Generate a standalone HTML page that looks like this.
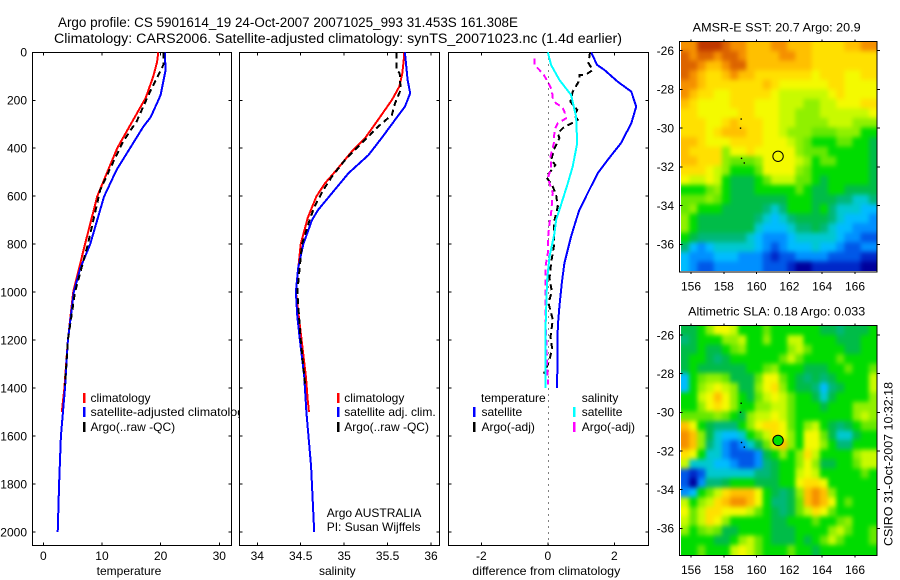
<!DOCTYPE html>
<html lang="en">
<head>
<meta charset="utf-8">
<title>Argo profile CS 5901614_19</title>
<style>
html,body{margin:0;padding:0;background:#fff;}
svg{display:block;}
text{font-family:"Liberation Sans",sans-serif;font-size:12px;fill:#000;}
</style>
</head>
<body>
<svg id="fig" xmlns="http://www.w3.org/2000/svg" width="900" height="580" viewBox="0 0 900 580">
<defs>
<clipPath id="clip-t"><rect x="0" y="380" width="239" height="60"/></clipPath>
<clipPath id="clip-sst"><rect x="681" y="42" width="196" height="229"/></clipPath>
<clipPath id="clip-sla"><rect x="681" y="326" width="196" height="229"/></clipPath>
<filter id="map-soften" x="-10%" y="-10%" width="120%" height="120%" color-interpolation-filters="sRGB">
<feGaussianBlur stdDeviation="2 2.3"/>
</filter>
</defs>
<rect x="0" y="0" width="900" height="580" fill="#fff"/>
<text x="58" y="27" style="font-size:13.5px" textLength="460" lengthAdjust="spacingAndGlyphs">Argo profile: CS 5901614_19 24-Oct-2007 20071025_993 31.453S 161.308E</text>
<text x="54" y="43" style="font-size:13.5px" textLength="568" lengthAdjust="spacingAndGlyphs">Climatology: CARS2006. Satellite-adjusted climatology: synTS_20071023.nc (1.4d earlier)</text>
<g id="plots"></g>

<g>
<rect x="83" y="393" width="2.5" height="10" fill="#f00"/>
<text x="90.5" y="402">climatology</text>
<rect x="83" y="407" width="2.5" height="10" fill="#00f"/>
<text x="90.5" y="416" clip-path="url(#clip-t)" textLength="160" lengthAdjust="spacingAndGlyphs">satellite-adjusted climatology</text>
<rect x="83" y="422" width="2.5" height="10" fill="#000"/>
<text x="90.5" y="431">Argo(..raw -QC)</text>
</g>
<g>
<rect x="337" y="393" width="2.5" height="10" fill="#f00"/>
<text x="344.3" y="402">climatology</text>
<rect x="337" y="407" width="2.5" height="10" fill="#00f"/>
<text x="344.3" y="416">satellite adj. clim.</text>
<rect x="337" y="422" width="2.5" height="10" fill="#000"/>
<text x="344.3" y="431">Argo(..raw -QC)</text>
<text x="326.7" y="517">Argo AUSTRALIA</text>
<text x="326.7" y="531">PI: Susan Wijffels</text>
</g>
<g>
<text x="481" y="402">temperature</text>
<rect x="473" y="407" width="2.5" height="10" fill="#00f"/>
<text x="481.5" y="416">satellite</text>
<rect x="473" y="422" width="2.5" height="10" fill="#000"/>
<text x="481.5" y="431">Argo(-adj)</text>
<text x="581.7" y="402">salinity</text>
<rect x="573" y="407" width="2.5" height="10" fill="#0ff"/>
<text x="581.7" y="416">satellite</text>
<rect x="573" y="422" width="2.5" height="10" fill="#f0f"/>
<text x="581.7" y="431">Argo(-adj)</text>
</g>

<text x="129" y="575" text-anchor="middle">temperature</text>
<text x="337.3" y="575" text-anchor="middle">salinity</text>
<text x="546.3" y="575" text-anchor="middle" textLength="148" lengthAdjust="spacingAndGlyphs">difference from climatology</text>
<text x="776.7" y="31.5" text-anchor="middle" textLength="168" lengthAdjust="spacingAndGlyphs">AMSR-E SST: 20.7 Argo: 20.9</text>
<text x="776.7" y="315.5" text-anchor="middle" textLength="177" lengthAdjust="spacingAndGlyphs">Altimetric SLA: 0.18 Argo: 0.033</text>
<text x="0" y="0" transform="translate(892.5,464) rotate(-90)" text-anchor="middle" textLength="164" lengthAdjust="spacingAndGlyphs">CSIRO 31-Oct-2007 10:32:18</text>
</svg>

<script>
/* ---------- axis tick labels ---------- */
var depthTicks = [0,200,400,600,800,1000,1200,1400,1600,1800,2000];
var tempTicks = [0,10,20,30];
var salTicks = [34,34.5,35,35.5,36];
var diffTicks = [-2,0,2];
var lonTicks = [156,158,160,162,164,166];
var latTicks = [-26,-28,-30,-32,-34,-36];

/* ---------- temperature panel ---------- */
var climTempDepth = [0,40,100,190,300,400,500,600,800,1000,1200,1400,1500];
var climTempValue = [19.6,19.4,18.75,17.45,14.9,12.6,10.9,9.2,7.1,5.1,4.2,3.6,3.15];
var satTempDepth = [0,50,80,178,200,270,310,379,490,602,800,900,1000,1200,1400,1600,1800,2000];
var satTempValue = [20.75,20.8,20.8,20.0,19.6,18.3,17.05,15.3,12.5,10.35,8,6.3,5.2,4.2,3.7,3.0,2.7,2.45];
var argoTempDepth = [0,50,81,149,212,289,320,372,484,574,800,1000,1200,1390];
var argoTempValue = [20.5,20.5,19.9,18.5,17.3,15.9,15,13.6,11.4,9.7,7.6,5.4,4.2,3.7];

/* ---------- salinity panel ---------- */
var climSalDepth = [0,18,88,143,199,282,358,414,483,546,601,691,800,1000,1200,1352,1449,1500];
var climSalValue = [35.69,35.69,35.67,35.635,35.55,35.39,35.24,35.087,34.93,34.78,34.68,34.58,34.5,34.445,34.51,34.56,34.58,34.595];
var satSalDepth = [0,115,171,227,282,358,428,504,587,657,699,800,900,1000,1100,1200,1350,1500,1727,2000];
var satSalValue = [35.7,35.73,35.76,35.7,35.585,35.43,35.28,35.05,34.86,34.7,34.63,34.53,34.47,34.445,34.46,34.49,34.54,34.565,34.62,34.655];
var argoSalDepth = [0,70,88,157,213,261,310,351,393,449,518,574,643,691,800,1000,1200,1385];
var argoSalValue = [35.6,35.6,35.64,35.65,35.585,35.55,35.39,35.28,35.16,35.01,34.86,34.76,34.66,34.61,34.515,34.46,34.5,34.55];

/* ---------- difference panel ---------- */
var diffSatTempDepth = [0,53,74,122,164,227,296,379,449,504,587,657,699,768,879,962,1060,1143,1400];
var diffSatTempValue = [1.3,1.485,1.705,2.1,2.51,2.66,2.51,2.2,1.8,1.5,1.2,0.95,0.85,0.7,0.5,0.42,0.35,0.3,0.28];
var diffSatSalDepth = [0,53,115,178,268,379,476,546,657,699,754,852,949,1157,1400];
var diffSatSalValue = [0,0.1,0.35,0.7,0.85,0.885,0.75,0.6,0.35,0.25,0.2,0.05,-0.02,-0.07,-0.07];
var diffArgoTempDepth = [0,45,74,92,95,122,164,206,240,261,282,316,338,358,400,449,470,497,518,560,595,643,713,810,879,942,997,1046,1115,1186,1234,1283,1340];
var diffArgoTempValue = [1.27,1.225,1.35,1.155,0.955,0.93,0.75,0.68,0.885,0.8,0.9,0.45,0.3,0.35,0.2,0.1,0.23,0.08,-0.05,0.15,0.25,0.3,0.18,0.18,0.1,0.05,0.12,0.02,0.15,0.08,0.13,0.05,-0.12];
var diffArgoSalDepth = [25,53,74,95,122,157,192,213,227,247,275,296,324,379,435,483,525,587,671,713,782,837,893,949,1004,1060,1115,1296,1352,1385];
var diffArgoSalValue = [-0.4,-0.4,-0.25,-0.12,0,0.12,0.15,0.25,0.42,0.5,0.55,0.3,0.2,0.18,0.08,0.1,0,0.15,0.1,0.05,0,0,-0.07,-0.07,-0.07,-0.07,-0.07,-0.02,0,0];

/* ---------- map data: colour-scale levels, 24 rows x 24 columns ---------- */
var sstRow00 = [15,15,17,17,17,16,15,15,14,14,14,15,15,14,14,14,13,13,13,13,14,14,15,15];
var sstRow01 = [16,15,16,16,15,16,16,15,14,14,14,14,15,15,14,14,13,13,13,13,13,13,13,13];
var sstRow02 = [16,16,15,14,14,15,16,16,14,14,14,14,14,14,14,14,13,13,13,13,13,13,13,13];
var sstRow03 = [16,15,14,13,13,14,15,14,14,13,13,13,13,13,13,13,12,13,13,13,12,12,13,13];
var sstRow04 = [15,15,14,13,13,13,13,13,13,13,14,13,12,12,12,12,12,12,13,13,12,12,12,12];
var sstRow05 = [15,14,13,13,12,12,13,13,13,13,13,12,11,11,11,11,11,11,12,13,12,12,12,12];
var sstRow06 = [14,13,12,12,12,12,13,13,13,12,12,12,11,11,11,10,10,11,11,12,12,12,13,13];
var sstRow07 = [13,13,12,12,12,12,12,13,13,12,12,12,11,11,10,10,10,11,11,11,11,11,11,12];
var sstRow08 = [13,13,13,12,12,13,14,13,13,13,12,12,11,11,10,10,10,10,11,11,11,10,10,10];
var sstRow09 = [13,13,13,12,13,14,14,14,13,13,12,12,11,10,10,10,9,9,9,10,10,10,8,8];
var sstRow10 = [14,14,13,12,12,12,13,13,13,13,12,12,12,11,10,9,8,8,8,9,9,8,8,7];
var sstRow11 = [14,13,13,13,13,10,12,12,13,12,12,12,12,12,10,9,9,9,8,8,8,8,8,7];
var sstRow12 = [14,14,13,13,13,10,9,9,9,10,12,12,12,12,11,10,8,9,9,8,8,8,8,7];
var sstRow13 = [13,13,13,12,11,10,8,8,8,9,12,12,12,12,10,9,8,8,8,8,8,8,8,7];
var sstRow14 = [12,11,11,12,11,8,7,7,7,8,9,11,11,11,9,9,8,7,8,8,8,8,8,7];
var sstRow15 = [8,8,8,9,10,8,7,7,7,8,8,8,8,8,9,8,7,7,8,8,7,7,7,7];
var sstRow16 = [9,9,9,10,9,8,7,7,7,7,7,7,7,8,8,8,7,7,7,6,6,5,5,6];
var sstRow17 = [9,10,8,8,8,7,7,7,7,7,6,5,6,8,8,8,7,8,6,5,5,5,4,4];
var sstRow18 = [10,8,7,7,7,7,7,7,7,6,5,4,5,6,7,7,7,7,6,5,4,4,4,3];
var sstRow19 = [10,8,7,7,7,7,7,7,7,5,4,4,4,5,6,6,7,6,5,4,4,3,3,3];
var sstRow20 = [8,7,6,6,6,6,6,6,5,4,3,3,3,4,5,5,5,5,5,4,3,3,2,2];
var sstRow21 = [6,4,3,4,5,5,5,5,5,4,3,2,3,4,4,4,5,4,4,3,2,2,3,3];
var sstRow22 = [4,3,3,3,4,4,4,3,3,3,2,1,2,2,3,3,3,3,2,2,2,2,1,1];
var sstRow23 = [4,3,2,2,3,3,3,3,3,3,2,2,2,1,0,0,1,1,1,1,1,1,0,0];
var sstRows = [sstRow00,sstRow01,sstRow02,sstRow03,sstRow04,sstRow05,sstRow06,sstRow07,sstRow08,sstRow09,sstRow10,sstRow11,sstRow12,sstRow13,sstRow14,sstRow15,sstRow16,sstRow17,sstRow18,sstRow19,sstRow20,sstRow21,sstRow22,sstRow23];

var slaRow00 = [7,7,8,10,12,12,11,8,8,8,9,8,8,8,8,8,8,7,7,6,7,7,7,8];
var slaRow01 = [6,7,8,8,8,10,10,11,8,8,10,8,8,11,11,8,8,8,8,7,7,7,8,8];
var slaRow02 = [7,7,8,7,7,8,9,10,8,8,8,8,8,10,11,9,8,8,8,8,7,7,8,8];
var slaRow03 = [7,8,8,7,6,7,8,8,8,8,8,8,9,11,9,8,8,8,8,9,8,8,8,8];
var slaRow04 = [7,8,7,7,7,7,7,7,8,8,9,10,8,8,8,7,7,7,8,8,9,8,8,9];
var slaRow05 = [4,8,9,10,10,9,7,7,7,9,12,12,9,8,7,6,7,6,7,8,8,8,8,11];
var slaRow06 = [4,8,10,11,12,11,10,7,7,10,12,13,10,8,7,7,6,4,6,7,8,8,8,11];
var slaRow07 = [8,8,11,12,14,12,10,8,7,9,11,12,11,9,8,8,7,5,7,8,8,8,8,10];
var slaRow08 = [8,8,10,12,13,12,10,8,8,10,10,11,11,9,8,8,8,7,8,8,8,10,10,10];
var slaRow09 = [9,9,9,9,10,9,8,7,10,11,11,12,11,9,8,8,8,8,8,8,8,10,11,10];
var slaRow10 = [14,12,8,7,6,6,6,8,10,12,13,13,12,9,8,10,11,8,7,6,7,8,9,9];
var slaRow11 = [15,14,10,7,5,4,4,5,8,9,11,13,12,10,8,12,12,9,7,5,5,7,8,8];
var slaRow12 = [15,14,10,6,5,3,2,3,5,7,9,13,14,10,8,12,12,10,8,6,6,8,8,8];
var slaRow13 = [13,12,8,5,5,3,2,2,2,3,7,8,10,8,10,13,11,8,8,8,8,10,11,11];
var slaRow14 = [11,5,5,5,4,4,3,2,2,3,6,7,8,8,10,12,10,7,7,8,8,9,11,11];
var slaRow15 = [2,1,2,5,5,5,5,5,5,6,6,7,8,8,11,12,11,8,8,8,8,8,9,8];
var slaRow16 = [2,0,3,6,6,7,8,8,8,7,7,7,8,8,12,13,13,12,8,8,8,8,8,8];
var slaRow17 = [3,4,8,9,11,13,14,14,14,12,8,7,6,7,10,14,15,14,10,8,8,8,8,8];
var slaRow18 = [11,8,10,11,13,14,15,15,14,12,8,6,6,7,9,14,15,14,12,8,9,8,8,8];
var slaRow19 = [12,9,11,13,13,12,12,12,11,9,8,7,6,7,9,11,13,12,9,8,8,8,8,8];
var slaRow20 = [11,9,11,13,12,10,8,8,8,8,8,7,7,8,8,8,9,8,8,9,10,8,8,8];
var slaRow21 = [10,8,9,10,9,7,7,8,8,8,8,7,7,7,8,8,8,8,10,11,9,8,8,9];
var slaRow22 = [8,8,8,8,7,7,8,10,11,9,8,7,7,7,8,7,8,9,11,9,8,8,8,9];
var slaRow23 = [8,8,9,8,8,8,11,12,11,9,8,8,8,9,8,8,7,8,8,8,8,8,8,8];
var slaRows = [slaRow00,slaRow01,slaRow02,slaRow03,slaRow04,slaRow05,slaRow06,slaRow07,slaRow08,slaRow09,slaRow10,slaRow11,slaRow12,slaRow13,slaRow14,slaRow15,slaRow16,slaRow17,slaRow18,slaRow19,slaRow20,slaRow21,slaRow22,slaRow23];

var trackLon = [159.06,159.02,159.08,159.25];
var trackLat = [-29.53,-30.0,-31.56,-31.8];
var argoLon = [161.308];
var argoLat = [-31.453];
var colourScale = ['#00009c','#0028c8','#0058e8','#0090ff','#00bcff','#00c8d0','#00b878','#00bc48','#00dc00','#66e800','#90f000','#c8fa00','#f4fa00','#ffe000','#ffc000','#f59000','#dc6400','#c03800'];

var SVGNS = 'http://www.w3.org/2000/svg';
var root = document.getElementById('plots');

function add(parent, tag, attrs, name) {
  var el = document.createElementNS(SVGNS, tag);
  for (var k in attrs) { el.setAttribute(k, attrs[k]); }
  
  
  parent.appendChild(el);
  return el;
}
function label(parent, x, y, str, anchor, name) {
  var t = add(parent, 'text', {x: x, y: y, 'text-anchor': anchor}, name);
  t.textContent = str;
  return t;
}
function linear(d0, r0, d1, r1) {
  return function (v) { return r0 + (v - d0) * (r1 - r0) / (d1 - d0); };
}
function tickText(v) { return String(v); }

var panelTop = 52.5, panelBottom = 545.5;
var depthY = linear(0, 52.3, 2000, 532);
var crisp = 'crispEdges';

function drawProfilePanel(key, left, right, xScale, xTicks) {
  var g = add(root, 'g', {}, key + '-panel');
  add(g, 'rect', {x: left, y: panelTop, width: right - left, height: panelBottom - panelTop, fill: '#fff', stroke: '#000', 'stroke-width': 1, 'shape-rendering': crisp}, key + '-axes-frame');
  for (var i = 0; i < depthTicks.length; i++) {
    var y = depthY(depthTicks[i]);
    add(g, 'line', {x1: left, x2: left + 3, y1: y, y2: y, stroke: '#000', 'shape-rendering': crisp}, key + '-y-tick-left');
    add(g, 'line', {x1: right - 3, x2: right, y1: y, y2: y, stroke: '#000', 'shape-rendering': crisp}, key + '-y-tick-right');
  }
  for (var j = 0; j < xTicks.length; j++) {
    var x = xScale(xTicks[j]);
    add(g, 'line', {x1: x, x2: x, y1: panelTop, y2: panelTop + 3, stroke: '#000', 'shape-rendering': crisp}, key + '-x-tick-top');
    add(g, 'line', {x1: x, x2: x, y1: panelBottom - 3, y2: panelBottom, stroke: '#000', 'shape-rendering': crisp}, key + '-x-tick-bottom');
    label(g, x, 560, tickText(xTicks[j]), 'middle', key + '-x-tick-label');
  }
  return g;
}
function drawProfile(g, depths, values, xScale, colour, dash, width, name) {
  var pts = [];
  for (var i = 0; i < depths.length; i++) {
    pts.push(xScale(values[i]).toFixed(1) + ',' + depthY(depths[i]).toFixed(1));
  }
  var attrs = {points: pts.join(' '), fill: 'none', stroke: colour, 'stroke-width': width, 'shape-rendering': 'crispEdges'};
  if (dash) { attrs['stroke-dasharray'] = dash; }
  add(g, 'polyline', attrs, name);
}

/* temperature */
var tempX = linear(0, 43.3, 30, 219.3);
var gT = drawProfilePanel('temperature', 32.5, 231.5, tempX, tempTicks);
for (var d = 0; d < depthTicks.length; d++) {
  label(gT, 27, depthY(depthTicks[d]) + 4.3, tickText(depthTicks[d]), 'end', 'depth-tick-label');
}
drawProfile(gT, climTempDepth, climTempValue, tempX, '#f00', null, 2, 'temperature-climatology-line');
drawProfile(gT, satTempDepth, satTempValue, tempX, '#00f', null, 2, 'temperature-satellite-adjusted-line');
drawProfile(gT, argoTempDepth, argoTempValue, tempX, '#000', '6 4', 2, 'temperature-argo-line');

/* salinity */
var salX = linear(34, 257.3, 36, 431);
var gS = drawProfilePanel('salinity', 239.5, 439.5, salX, salTicks);
drawProfile(gS, climSalDepth, climSalValue, salX, '#f00', null, 2, 'salinity-climatology-line');
drawProfile(gS, satSalDepth, satSalValue, salX, '#00f', null, 2, 'salinity-satellite-adjusted-line');
drawProfile(gS, argoSalDepth, argoSalValue, salX, '#000', '6 4', 2, 'salinity-argo-line');

/* differences */
var diffX = linear(-2, 481.3, 2, 614.3);
var gD = drawProfilePanel('difference', 448.5, 648.5, diffX, diffTicks);
add(gD, 'line', {x1: 548.5, x2: 548.5, y1: panelTop, y2: panelBottom, stroke: '#000', 'stroke-width': 1, 'stroke-dasharray': '1.2 4.8', 'shape-rendering': crisp}, 'zero-difference-line');
drawProfile(gD, diffSatTempDepth, diffSatTempValue, diffX, '#00f', null, 2, 'difference-temperature-satellite-line');
drawProfile(gD, diffArgoTempDepth, diffArgoTempValue, diffX, '#000', '6 4', 2, 'difference-temperature-argo-line');
drawProfile(gD, diffArgoSalDepth, diffArgoSalValue, diffX, '#f0f', '6 4', 2, 'difference-salinity-argo-line');
drawProfile(gD, diffSatSalDepth, diffSatSalValue, diffX, '#0ff', null, 2, 'difference-salinity-satellite-line');

/* maps */
function drawMap(key, rows, top, bottom, latScale, fillCircle) {
  var lonScale = linear(156, 691, 166, 855);
  var left = 681, right = 877, frameLeft = 679.5;
  var g = add(root, 'g', {}, key + '-map');
  add(g, 'rect', {x: frameLeft, y: top, width: right - frameLeft, height: bottom - top, fill: '#fff', stroke: '#000', 'stroke-width': 1, 'shape-rendering': crisp}, key + '-map-frame');
  var clipGroup = add(g, 'g', {'clip-path': 'url(#clip-' + key + ')'}, key + '-map-image-clip');
  var cells = add(clipGroup, 'g', {filter: 'url(#map-soften)'}, key + '-map-image');
  var nRows = rows.length;
  var cellH = (bottom - 1 - top) / nRows;
  for (var r = 0; r < nRows; r++) {
    var nCols = rows[r].length;
    var cellW = (right - left) / nCols;
    for (var c = 0; c < nCols; c++) {
      var bleedL = c === 0 ? 12 : 0;
      var bleedR = c === nCols - 1 ? 12 : 0;
      var bleedT = r === 0 ? 12 : 0;
      var bleedB = r === nRows - 1 ? 12 : 0;
      var cell = document.createElementNS(SVGNS, 'rect');
      cell.setAttribute('x', (left + c * cellW - bleedL).toFixed(2));
      cell.setAttribute('y', (top + r * cellH - bleedT).toFixed(2));
      cell.setAttribute('width', (cellW + 0.4 + bleedL + bleedR).toFixed(2));
      cell.setAttribute('height', (cellH + 0.4 + bleedT + bleedB).toFixed(2));
      cell.setAttribute('fill', colourScale[rows[r][c]]);
      
      
      cells.appendChild(cell);
    }
  }
  add(g, 'line', {x1: right, x2: right, y1: top, y2: bottom, stroke: '#000', 'stroke-width': 1, 'shape-rendering': crisp}, key + '-map-right-edge');
  add(g, 'line', {x1: frameLeft, x2: right, y1: top, y2: top, stroke: '#000', 'stroke-width': 1, 'shape-rendering': crisp}, key + '-map-top-edge');
  for (var i = 0; i < latTicks.length; i++) {
    var y = latScale(latTicks[i]);
    add(g, 'line', {x1: frameLeft, x2: frameLeft + 3, y1: y, y2: y, stroke: '#000', 'shape-rendering': crisp}, key + '-lat-tick-left');
    add(g, 'line', {x1: right, x2: right + 3, y1: y, y2: y, stroke: '#000', 'shape-rendering': crisp}, key + '-lat-tick-right');
    label(g, 674, y + 4.3, tickText(latTicks[i]), 'end', key + '-lat-tick-label');
  }
  for (var j = 0; j < lonTicks.length; j++) {
    var x = lonScale(lonTicks[j]);
    add(g, 'line', {x1: x, x2: x, y1: top - 2, y2: top, stroke: '#000', 'shape-rendering': crisp}, key + '-lon-tick-top');
    add(g, 'line', {x1: x, x2: x, y1: bottom, y2: bottom + 2, stroke: '#000', 'shape-rendering': crisp}, key + '-lon-tick-bottom');
    label(g, x, bottom + 18.5, tickText(lonTicks[j]), 'middle', key + '-lon-tick-label');
  }
  for (var t = 0; t < trackLon.length; t++) {
    add(g, 'rect', {x: lonScale(trackLon[t]) - 0.7, y: latScale(trackLat[t]) - 0.7, width: 1.4, height: 1.4, fill: '#000'}, key + '-float-track-point');
  }
  add(g, 'circle', {cx: lonScale(argoLon[0]), cy: latScale(argoLat[0]), r: 5.2, fill: fillCircle, stroke: '#000', 'stroke-width': 1}, key + '-argo-position-marker');
}
drawMap('sst', sstRows, 41.5, 272, linear(-26, 50.7, -36, 244.3), 'none');
drawMap('sla', slaRows, 325.5, 555.5, linear(-26, 335, -36, 528.3), '#00e000');
</script>
</body>
</html>
